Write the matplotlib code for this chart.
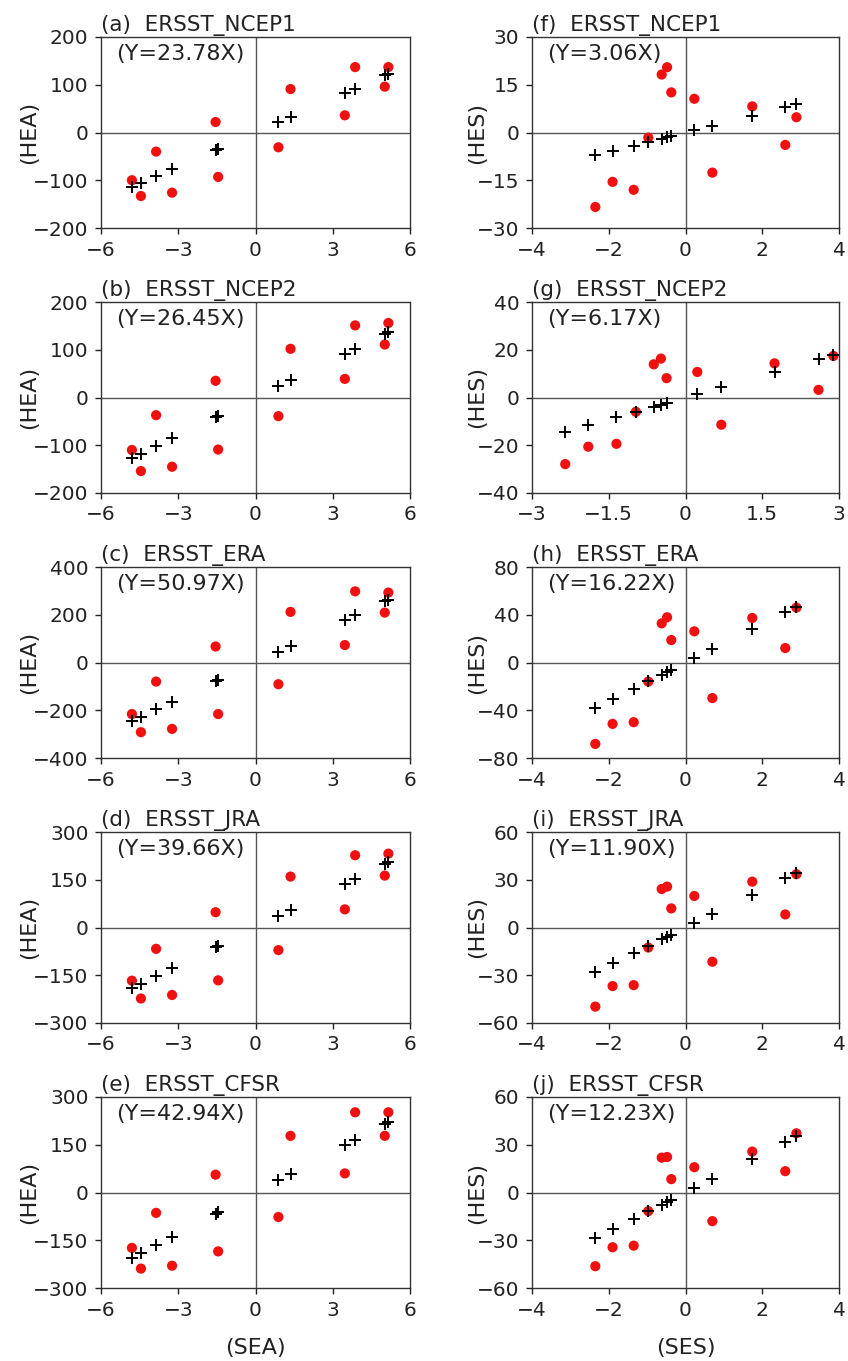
import numpy as np
import matplotlib.pyplot as plt

plt.rcParams['font.family'] = ['DejaVu Sans']

# --- データ ---
datasets = ['ERSST_NCEP1', 'ERSST_NCEP2', 'ERSST_ERA', 'ERSST_JRA', 'ERSST_CFSR']

# 横軸 (SEA / SES)
sea = np.array([-4.80, -4.45, -3.86, -3.24, -1.55, -1.45, 0.89, 1.36, 3.47, 3.87, 5.02, 5.16])
ses = np.array([-2.35, -1.90, -1.35, -0.97, -0.62, -0.48, -0.37, 0.23, 0.70, 1.74, 2.60, 2.89])

# 縦軸 HEA (左列)
hea_ncep1 = [-100, -133, -40, -126, 22, -93, -31, 91, 36, 137, 96, 137]
hea_ncep2 = [-110, -154, -37, -145, 35, -109, -39, 102, 39, 151, 111, 156]
hea_era = [-216, -292, -80, -278, 67, -216, -91, 212, 73, 298, 209, 293]
hea_jra = [-167, -223, -67, -212, 48, -166, -71, 160, 57, 227, 163, 232]
hea_cfsr = [-174, -239, -64, -230, 56, -185, -77, 178, 60, 252, 178, 252]

# 縦軸 HES (右列)
hes_ncep1 = [-23.4, -15.5, -18.0, -1.6, 18.2, 20.5, 12.6, 10.6, -12.6, 8.2, -3.9, 4.8]
hes_ncep2 = [-27.9, -20.6, -19.4, -6.0, 13.9, 16.3, 8.1, 10.7, -11.4, 14.3, 3.2, 17.4]
hes_era = [-68.2, -51.4, -50.0, -16.0, 32.8, 37.9, 18.8, 26.1, -29.8, 37.3, 12.1, 46.0]
hes_jra = [-49.7, -36.8, -36.2, -12.6, 24.2, 25.7, 12.0, 19.8, -21.5, 28.8, 8.2, 33.5]
hes_cfsr = [-46.3, -34.4, -33.4, -11.7, 21.9, 22.3, 8.4, 15.9, -18.0, 25.7, 13.4, 37.2]

# 回帰係数 (Y = kX)
slope_hea = [23.78, 26.45, 50.97, 39.66, 42.94]
slope_hes = [3.06, 6.17, 16.22, 11.90, 12.23]

hea_all = [hea_ncep1, hea_ncep2, hea_era, hea_jra, hea_cfsr]
hes_all = [hes_ncep1, hes_ncep2, hes_era, hes_jra, hes_cfsr]

# 軸の目盛り
hea_yticks = [[-200, -100, 0, 100, 200], [-200, -100, 0, 100, 200],
              [-400, -200, 0, 200, 400], [-300, -150, 0, 150, 300],
              [-300, -150, 0, 150, 300]]
hes_yticks = [[-30, -15, 0, 15, 30], [-40, -20, 0, 20, 40],
              [-80, -40, 0, 40, 80], [-60, -30, 0, 30, 60],
              [-60, -30, 0, 30, 60]]
sea_xticks = [-6, -3, 0, 3, 6]
ses_xticks = [[-4, -2, 0, 2, 4], [-3, -1.5, 0, 1.5, 3],
              [-4, -2, 0, 2, 4], [-4, -2, 0, 2, 4], [-4, -2, 0, 2, 4]]

letters_left = ['a', 'b', 'c', 'd', 'e']
letters_right = ['f', 'g', 'h', 'i', 'j']

# --- レイアウト (ピクセル) ---
W, H = 848, 1361
ROW_TOP = [37, 302, 567, 832, 1097]
AX_H = 191
COL = [(101, 309), (532, 307)]
YLAB_X = [-0.20, -0.147]   # 縦軸ラベルの位置 (軸座標)
TXT = '#222222'


def fmt(v):
    return f'{v:g}'.replace('-', '\u2212')


def draw_panel(ax, x, y, k, xticks, yticks, title, ylabel, xlabel, ylab_x):
    ax.axhline(0, color='#555555', lw=1.0, zorder=1)
    ax.axvline(0, color='#555555', lw=1.0, zorder=1)
    ax.scatter(x, y, s=54, color='#f01010', edgecolors='none', zorder=3)
    ax.plot(x, k * x, linestyle='none', marker='+', color='black',
            markersize=8, markeredgewidth=1.4, zorder=4)
    ax.set_xlim(xticks[0], xticks[-1])
    ax.set_ylim(yticks[0], yticks[-1])
    ax.set_xticks(xticks)
    ax.set_xticklabels([fmt(v) for v in xticks])
    ax.set_yticks(yticks)
    ax.set_yticklabels([fmt(v) for v in yticks])
    ax.tick_params(direction='out', length=4, width=1, labelsize=14.5,
                   colors=TXT, pad=5)
    for sp in ax.spines.values():
        sp.set_linewidth(1.0)
        sp.set_color('#333333')
    ax.set_title(title, loc='left', fontsize=15.5, color=TXT, pad=4)
    ax.text(0.05, 0.965, f'(Y={k:.2f}X)', transform=ax.transAxes,
            ha='left', va='top', fontsize=16, color=TXT)
    ax.set_ylabel(ylabel, fontsize=16, color=TXT)
    ax.yaxis.set_label_coords(ylab_x, 0.5)
    if xlabel:
        ax.set_xlabel(xlabel, fontsize=16, color=TXT, labelpad=13)


fig = plt.figure(figsize=(W / 100, H / 100), dpi=100)

for i in range(5):
    bottom = 1 - (ROW_TOP[i] + AX_H) / H
    # 左列: SEA vs HEA
    l, w = COL[0]
    ax = fig.add_axes([l / W, bottom, w / W, AX_H / H])
    draw_panel(ax, sea, np.array(hea_all[i]), slope_hea[i], sea_xticks,
               hea_yticks[i], f'({letters_left[i]})  {datasets[i]}', '(HEA)',
               '(SEA)' if i == 4 else None, YLAB_X[0])
    # 右列: SES vs HES
    l, w = COL[1]
    ax = fig.add_axes([l / W, bottom, w / W, AX_H / H])
    draw_panel(ax, ses, np.array(hes_all[i]), slope_hes[i], ses_xticks[i],
               hes_yticks[i], f'({letters_right[i]})  {datasets[i]}', '(HES)',
               '(SES)' if i == 4 else None, YLAB_X[1])

fig.savefig('out.png', dpi=100, facecolor='white')
